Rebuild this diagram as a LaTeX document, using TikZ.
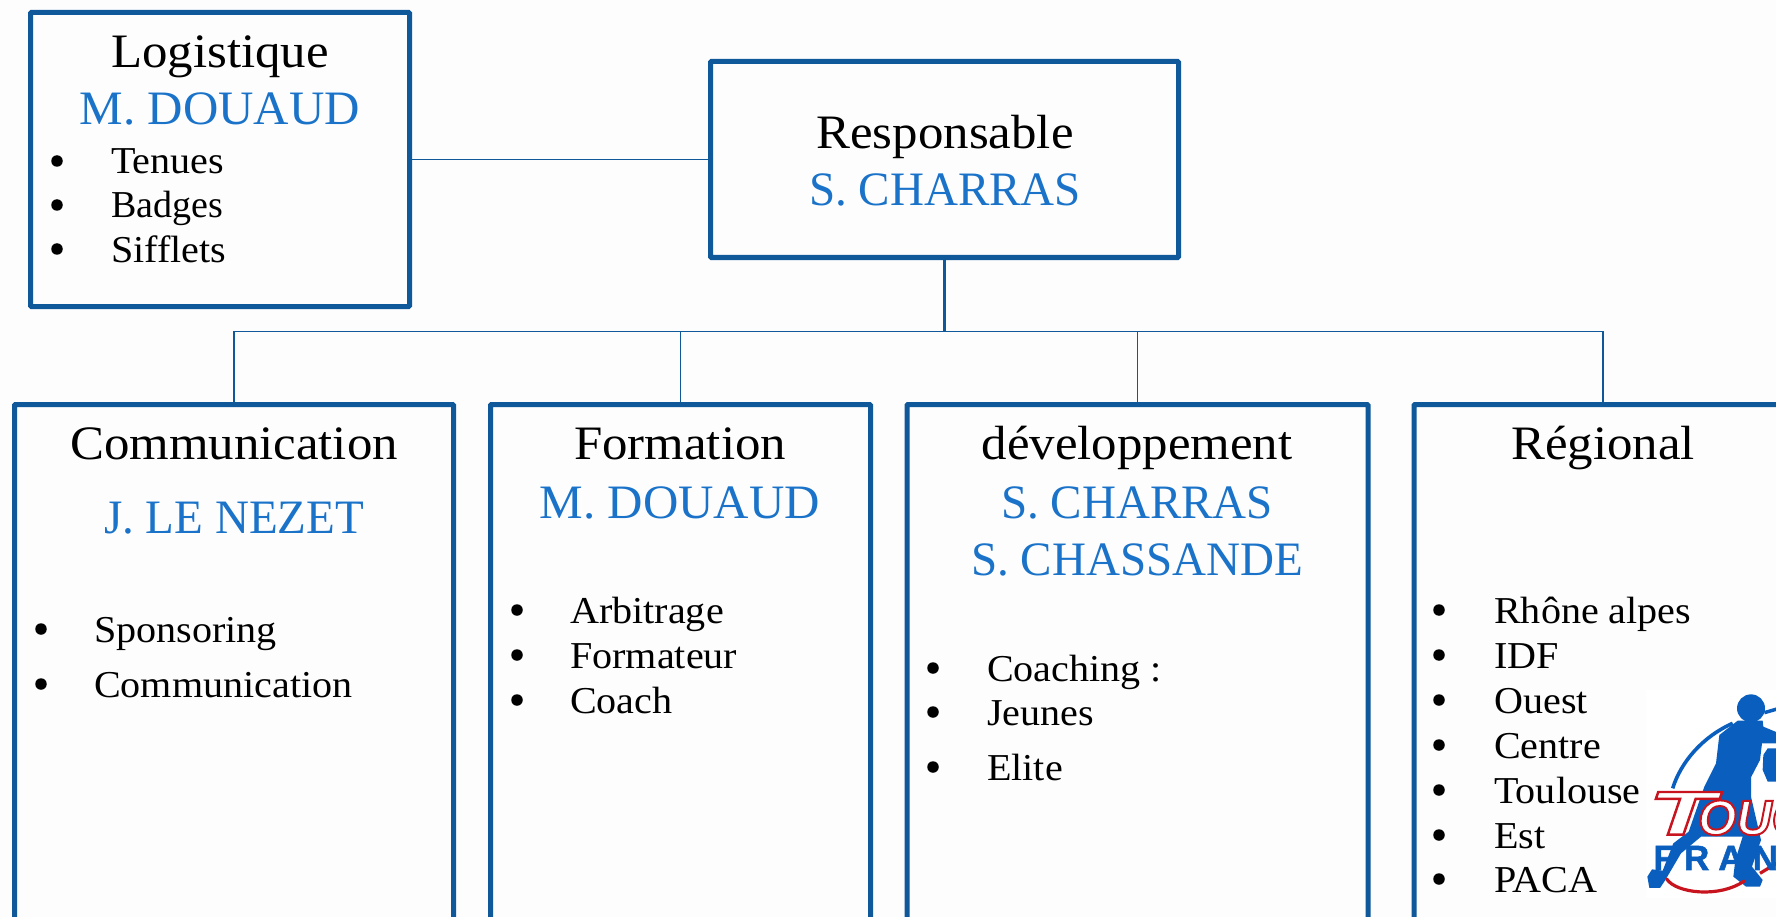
\documentclass[tikz,border=0pt]{standalone}
\usepackage{fontspec}
\setmainfont{Liberation Serif}
\newfontfamily\titlef[FakeStretch=1.06]{Liberation Serif}
\newfontfamily\namef[FakeStretch=0.98]{Liberation Serif}
\newfontfamily\namew[FakeStretch=1.02]{Liberation Serif}
\newfontfamily\itemf[FakeStretch=1.055]{Liberation Serif}
\newfontfamily\logoT[FakeBold=4,FakeStretch=1.75]{Liberation Sans Bold Italic}
\newfontfamily\logoO[FakeBold=4]{Liberation Sans Bold Italic}
\newfontfamily\logoB[LetterSpace=26,FakeBold=1.5]{Liberation Sans Bold}
\definecolor{boxblue}{HTML}{0F5899}
\definecolor{nameblue}{HTML}{1A73C9}
\definecolor{pagebg}{HTML}{FDFDFD}
\definecolor{logoblue}{HTML}{0A5FBE}
\definecolor{logored}{HTML}{C8141E}
\tikzset{
  box/.style={draw=boxblue,line width=5pt,rounded corners=1pt,fill=none,outer sep=0pt,inner sep=0pt,anchor=north west},
  link/.style={draw=boxblue,line width=1.8pt},
  title/.style={anchor=base,inner sep=0pt,font=\titlef\fontsize{48}{48}\selectfont},
  who/.style={anchor=base,inner sep=0pt,text=nameblue,font=\namef\fontsize{48}{48}\selectfont},
  item/.style={anchor=base west,inner sep=0pt,font=\itemf\fontsize{38}{38}\selectfont},
  dot/.style={circle,fill=black,inner sep=0pt,minimum size=11.5pt},
}
\newcommand{\li}[5]{\node[dot] (#1b) at (#2,#4-13) {};\node[item] (#1t) at (#3,#4) {#5};}
\begin{document}
\begin{tikzpicture}[x=1pt,y=-1pt]
\useasboundingbox (0,0) rectangle (1776,917);
\clip (0,0) rectangle (1776,917);
\fill[pagebg] (0,0) rectangle (1776,917);
% boxes
\node[box,minimum width=379pt,minimum height=294pt] (logi) at (30.5,12.5) {};
\node[box,minimum width=468pt,minimum height=196pt] (resp) at (710.5,61.5) {};
\node[box,minimum width=439pt,minimum height=600pt] (comm) at (14.5,404.5) {};
\node[box,minimum width=380pt,minimum height=600pt] (form) at (490.5,404.5) {};
\node[box,minimum width=461pt,minimum height=600pt] (dev) at (907,404.5) {};
\node[box,minimum width=378pt,minimum height=600pt] (reg) at (1414,404.5) {};
% connectors
\coordinate (bus) at (944.5,331.5);
\draw[link] (logi.east) -- (resp.west);
\draw[link,line width=2.6pt] (resp.south) -- (bus);
\draw[link] (bus) -| (comm.north);
\draw[link] (bus) -| (form.north);
\draw[link] (bus) -| (dev.north);
\draw[link] (bus) -| (reg.north);
% Logistique
\node[title] (t1) at (220,68) {Logistique};
\node[who,font=\namew\fontsize{48}{48}\selectfont] (n1) at (220,125) {M. DOUAUD};
\li{a1}{57}{111}{174}{Tenues}
\li{a2}{57}{111}{218}{\rmfamily Badges}
\li{a3}{57}{111}{262}{Sifflets}
% Responsable
\node[title] (t2) at (945,149) {Responsable};
\node[who] (n2) at (945,206) {S. CHARRAS};
% Communication
\node[title] (t3) at (234,459) {Communication};
\node[who] (n3) at (234,533) {J. LE NEZET};
\li{b1}{41}{94}{642}{Sponsoring}
\li{b2}{41}{94}{697}{Communication}
% Formation
\node[title] (t4) at (680,459) {Formation};
\node[who,font=\namew\fontsize{48}{48}\selectfont] (n4) at (680,518) {M. DOUAUD};
\li{c1}{517}{570}{623}{Arbitrage}
\li{c2}{517}{570}{668}{Formateur}
\li{c3}{517}{570}{713}{Coach}
% developpement
\node[title] (t5) at (1137,459) {développement};
\node[who] (n5) at (1137,518) {S. CHARRAS};
\node[who] (n6) at (1137,575) {S. CHASSANDE};
\li{d1}{933}{987}{681}{Coaching :}
\li{d2}{933}{987}{725}{Jeunes}
\li{d3}{933}{987}{780}{Elite}
% Regional
\node[title] (t6) at (1603,459) {Régional};
\li{e1}{1439}{1494}{623}{Rhône alpes}
\li{e2}{1439}{1494}{668}{IDF}
\li{e3}{1439}{1494}{713}{Ouest}
\li{e4}{1439}{1494}{758}{Centre}
\li{e5}{1439}{1494}{803}{Toulouse}
\li{e6}{1439}{1494}{848}{Est}
\li{e7}{1439}{1494}{892}{PACA}
% logo
\begin{scope}[shift={(1636,680)},x=0.3333pt,y=-0.3333pt]
\fill[white] (30,30) rectangle (430,655);
\draw[logoblue,line width=3.6pt] (110,325) .. controls (135,245) and (200,170) .. (290,130);
\draw[logoblue,line width=3.5pt] (385,98) -- (430,85);
\fill[logoblue] (345,85) circle (42);
\fill[logoblue] (305,122) -- (380,122) -- (382,140) -- (430,160) -- (430,190) -- (378,190) -- (372,240)
  -- (345,292) -- (345,350) -- (375,480) -- (348,560)
  -- (380,600) -- (372,620) -- (330,620) -- (292,590) -- (298,540) -- (320,470) -- (195,470)
  -- (135,520) -- (88,600) -- (72,624) -- (40,624) -- (34,590) -- (48,568) -- (80,572)
  -- (112,490) -- (158,455) -- (205,320) -- (240,250) -- (250,165) -- cycle;
\fill[logoblue] (430,205) -- (395,205) -- (382,225) -- (380,270) -- (395,305) -- (430,305) -- cycle;
\draw[logored,line width=3.2pt,line cap=round] (92,597) .. controls (120,640) and (250,655) .. (325,603);
\draw[logored,line width=3.2pt] (372,580) -- (430,545);
\node[anchor=base west,inner sep=0pt,font=\logoB\fontsize{35}{35}\selectfont,text=logoblue] (fr) at (52,570) {FRANC};
\node[anchor=base west,inner sep=0pt] (ou) at (186,464) {\logoO\fontsize{49}{49}\selectfont\color{white}\special{pdf:code 0.78 0.08 0.12 RG}OUC};
\node[anchor=base west,inner sep=0pt] (tl) at (36,464) {\logoT\fontsize{62}{62}\selectfont\color{white}\special{pdf:code 0.78 0.08 0.12 RG}T};
\end{scope}
\end{tikzpicture}
\end{document}
